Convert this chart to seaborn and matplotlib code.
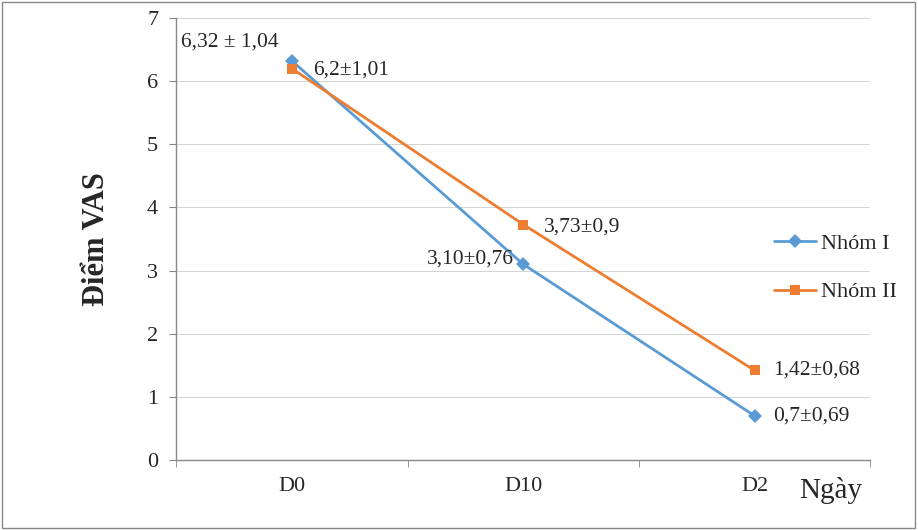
import matplotlib
matplotlib.use("Agg")
import matplotlib.pyplot as plt
import seaborn as sns
import pandas as pd
from matplotlib.patches import Rectangle

days = ["D0", "D10", "D2"]
group1 = [6.32, 3.10, 0.7]
group2 = [6.2, 3.73, 1.42]
labels1 = ["6,32 ± 1,04", "3,10±0,76", "0,7±0,69"]
labels2 = ["6,2±1,01", "3,73±0,9", "1,42±0,68"]
series_names = ["Nhóm I", "Nhóm II"]

sns.set_style("white")
plt.rcParams["font.family"] = ["Liberation Serif", "DejaVu Serif"]

df = pd.DataFrame({
    "day": days * 2,
    "pos": list(range(len(days))) * 2,
    "vas": group1 + group2,
    "group": [series_names[0]] * 3 + [series_names[1]] * 3,
})

fig = plt.figure(figsize=(9.18, 5.3), dpi=100)
ax = fig.add_axes([0.192, 0.132, 0.756, 0.834])

palette = {series_names[0]: "#5B9BD5", series_names[1]: "#ED7D31"}
markers = {series_names[0]: "D", series_names[1]: "s"}
sns.lineplot(data=df, x="pos", y="vas", hue="group", style="group",
             palette=palette, markers=markers, dashes=False, linewidth=2,
             markersize=7.5, markeredgewidth=0, ax=ax)

ax.set_xlim(-0.5, 2.5)
ax.set_ylim(0, 7)
ax.set_yticks(range(0, 8))
ax.set_xticks(range(len(days)))
ax.set_xticklabels(days)
ax.set_xticks([-0.5, 0.5, 1.5, 2.5], minor=True)
ax.grid(axis="y", which="major", color="#d4d4d4", linewidth=0.7)
ax.set_axisbelow(True)
ax.tick_params(axis="x", which="major", length=0, pad=12, labelsize=16)
ax.tick_params(axis="x", which="minor", length=5, color="#888888", direction="out")
ax.tick_params(axis="y", length=5, color="#888888", direction="out", labelsize=16, pad=8)
ax.xaxis.set_tick_params(which="minor", bottom=True)
ax.yaxis.set_tick_params(left=True)
for s in ["top", "right"]:
    ax.spines[s].set_visible(False)
for s in ["left", "bottom"]:
    ax.spines[s].set_color("#888888")
    ax.spines[s].set_linewidth(1)

ax.set_xlabel("")
ax.set_ylabel("Điểm VAS", fontsize=22, fontweight="bold", labelpad=26)

# annotations: (dx, y, ha)
pos1 = [(-0.48, 6.62, "left"), (-0.04, 3.18, "right"), (0.08, 0.70, "left")]
pos2 = [(0.09, 6.18, "left"), (0.087, 3.69, "left"), (0.08, 1.43, "left")]
for i, t in enumerate(labels1):
    dx, yy, ha = pos1[i]
    ax.text(i + dx, yy, t, ha=ha, va="center", fontsize=15.5)
for i, t in enumerate(labels2):
    dx, yy, ha = pos2[i]
    ax.text(i + dx, yy, t, ha=ha, va="center", fontsize=15.5)

ax.legend(loc="center left", bbox_to_anchor=(774 / 918, 1 - 268 / 530),
          bbox_transform=fig.transFigure, frameon=False,
          fontsize=16, handlelength=1.9, handletextpad=0.2, borderaxespad=0,
          borderpad=0, labelspacing=1.25)

fig.text(0.905, 0.075, "Ngày", ha="center", va="center", fontsize=21)

fig.patches.append(Rectangle((0.002, 0.004), 0.995, 0.992, transform=fig.transFigure,
                             fill=False, edgecolor="#888888", linewidth=1))

fig.savefig("out.png", dpi=100)
